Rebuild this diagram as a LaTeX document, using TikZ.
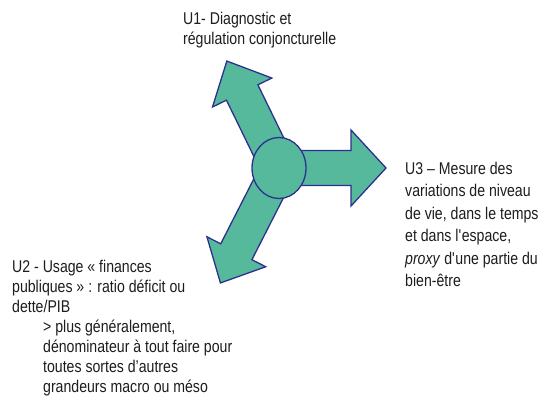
\documentclass[tikz,border=0pt]{standalone}
\usepackage{fontspec}
\setmainfont{Liberation Sans}[FakeStretch=0.83]
\usetikzlibrary{shapes.geometric}

\definecolor{vert}{RGB}{86,185,155}
\definecolor{bordbleu}{RGB}{46,48,142}
\definecolor{texte}{RGB}{30,28,28}

\begin{document}
\begin{tikzpicture}[
    x=1pt, y=1pt,
    usage/.style={align=left, anchor=north west, inner sep=0pt, text=texte,
                  font=\fontsize{17}{20}\selectfont},
    fleche/.style={draw=bordbleu, fill=vert, line width=1.3pt, line join=miter},
    hubstyle/.style={ellipse, draw=bordbleu, fill=vert, line width=1.3pt,
                     minimum width=54pt, minimum height=61pt, inner sep=0pt}
]
\useasboundingbox (0,0) rectangle (557,-408);
\coordinate (c) at (279,-168);

% les trois usages
\foreach \ang/\len/\hw in {0/107/38, 116/119/33, 243/129/33}{
  \begin{scope}[shift={(c)}, rotate=\ang]
    \draw[fleche] (0,-17.5) -- ({\len-35},-17.5) -- ({\len-35},-\hw) -- (\len,0)
        -- ({\len-35},\hw) -- ({\len-35},17.5) -- (0,17.5) -- cycle;
  \end{scope}
}
\node[hubstyle] (hub) at (c) {};

\node[usage] (u1) at (183,-12) {U1- Diagnostic et\\r\'egulation conjoncturelle};
\node[usage] (u2) at (12,-260) {U2 - Usage « finances\\publiques » : ratio d\'eficit ou\\dette/PIB\\
    \hspace*{31pt}> plus g\'en\'eralement,\\\hspace*{31pt}d\'enominateur \`a tout faire pour\\
    \hspace*{31pt}toutes sortes d’autres\\\hspace*{31pt}grandeurs macro ou m\'eso};
\node[usage, font=\fontsize{17}{22.4}\selectfont] (u3) at (405,-162) {U3 – Mesure des\\variations de niveau\\de vie, dans le temps\\et dans l\textquotesingle espace,\\\textit{proxy} d\textquotesingle une partie du\\bien-\^etre};
\end{tikzpicture}
\end{document}
